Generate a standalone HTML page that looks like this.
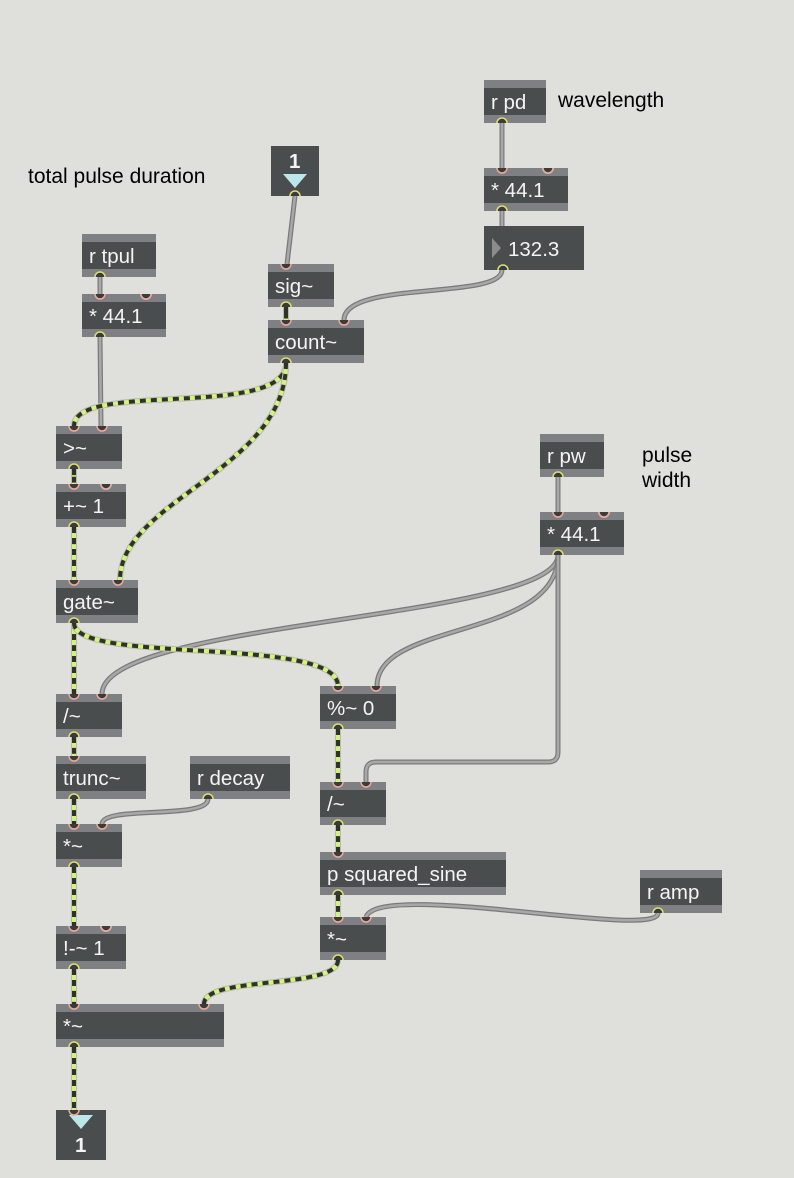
<!DOCTYPE html>
<html><head><meta charset="utf-8">
<style>
html,body{margin:0;padding:0;background:#dfe0db;}
svg{display:block}
.t{font-family:"Liberation Sans",sans-serif;font-size:20.5px;fill:#f4f4f4}
.c{font-family:"Liberation Sans",sans-serif;font-size:21px;fill:#000}
</style></head>
<body>
<svg id="s" width="794" height="1178" xmlns="http://www.w3.org/2000/svg">
<rect width="794" height="1178" fill="#dfe0db"/>
<text class="c" x="28" y="183">total pulse duration</text>
<text class="c" x="558" y="107">wavelength</text>
<text class="c" x="642" y="462">pulse</text>
<text class="c" x="642" y="487">width</text>
<g id="cords"></g>
<g id="boxes"></g>
</svg>
<script>
var NS="http://www.w3.org/2000/svg";
function el(p,tag,a,txt){var e=document.createElementNS(NS,tag);for(var k in a)e.setAttribute(k,a[k]);if(txt)e.textContent=txt;p.appendChild(e);return e;}
var B=document.getElementById('boxes'),C=document.getElementById('cords');
var bx={
 rpd:[484,80,62,'r pd',0,0],
 m1:[484,168,84,'* 44.1',2,1],
 sig:[268,264,66,'sig~',1,0],
 cnt:[268,320,96,'count~',2,0],
 rtp:[82,234,74,'r tpul',0,0],
 m2:[82,294,84,'* 44.1',2,1],
 gt:[56,426,66,'>~',2,0],
 pl:[56,484,70,'+~ 1',2,1],
 gate:[56,580,82,'gate~',2,0],
 rpw:[540,434,64,'r pw',0,0],
 m3:[540,512,84,'* 44.1',2,1],
 d1:[56,694,66,'/~',2,0],
 mod:[320,686,76,'%~ 0',2,0],
 tr:[56,756,90,'trunc~',1,0],
 rdc:[190,756,100,'r decay',0,0],
 t1:[56,824,66,'*~',2,0],
 d2:[320,782,66,'/~',2,0],
 ps:[320,852,186,'p squared_sine',1,0],
 ramp:[640,870,82,'r amp',0,0],
 t2:[320,917,66,'*~',2,0],
 nm:[56,926,70,'!-~ 1',2,1],
 t3:[56,1004,168,'*~',2,0]
};
function outP(n){var b=bx[n];return [b[0]+18,b[1]+43];}
function inP(n,i){var b=bx[n];return i?[b[0]+b[2]-20,b[1]]:[b[0]+18,b[1]];}
for(var k in bx){var b=bx[k],x=b[0],y=b[1],w=b[2];
 el(B,'rect',{x:x,y:y,width:w,height:43,fill:'#7e8083'});
 el(B,'rect',{x:x,y:y+8,width:w,height:27,fill:'#4a4d4d'});
 el(B,'text',{x:x+7,y:y+29,'class':'t'},b[3]);
 if(b[5])el(B,'path',{d:'M'+(x+w-26)+','+y+' a6,6 0 0 0 12,0z',fill:'#b8b9bb'});
 var ins=b[4]==2?[0,1]:(b[4]==1?[0]:[]);
 ins.forEach(function(i){var p=inP(k,i);el(B,'path',{d:'M'+(p[0]-5)+','+p[1]+' a5,5 0 0 0 10,0',fill:'#3a3c3c',stroke:'#f0a898','stroke-width':1.5});});
 var o=outP(k);el(B,'path',{d:'M'+(o[0]-5)+','+o[1]+' a5,5 0 0 1 10,0',fill:'#3a3c3c',stroke:'#e0e070','stroke-width':1.5});
}
el(B,'rect',{x:484,y:226,width:100,height:44,fill:'#4a4d4d'});
el(B,'path',{d:'M492,238 l9,10 l-9,10z',fill:'#8a8c8e'});
el(B,'text',{x:508,y:256,'class':'t'},'132.3');
el(B,'path',{d:'M498,270 a5,5 0 0 1 10,0',fill:'#3a3c3c',stroke:'#e0e070','stroke-width':1.5});
el(B,'rect',{x:271,y:146,width:48,height:50,fill:'#4a4d4d'});
el(B,'text',{x:289,y:168,'class':'t','font-size':'17','font-weight':'bold'},'1');
el(B,'path',{d:'M283,174 h24 l-12,14z',fill:'#bde6ea'});
el(B,'rect',{x:56,y:1110,width:50,height:50,fill:'#4a4d4d'});
el(B,'path',{d:'M69,1115 h24 l-12,14z',fill:'#bde6ea'});
el(B,'text',{x:75,y:1152,'class':'t','font-size':'17','font-weight':'bold'},'1');
el(B,'path',{d:'M290,196 a5,5 0 0 1 10,0',fill:'#3a3c3c',stroke:'#e0e070','stroke-width':1.5});
el(B,'path',{d:'M69,1110 a5,5 0 0 0 10,0',fill:'#3a3c3c',stroke:'#f0a898','stroke-width':1.5});

function cord(d,sig){
 if(sig){
  el(C,'path',{d:d,fill:'none',stroke:'#b8bcae','stroke-width':6});
  el(C,'path',{d:d,fill:'none',stroke:'#d4f280','stroke-width':4});
  el(C,'path',{d:d,fill:'none',stroke:'#2e3326','stroke-width':4,'stroke-dasharray':'6,5'});
 }else{
  el(C,'path',{d:d,fill:'none',stroke:'#7a7a7a','stroke-width':5});
  el(C,'path',{d:d,fill:'none',stroke:'#a8a8a8','stroke-width':2.5});
 }
}
function cv(a,b,sig){var dy=Math.max(20,Math.abs(b[1]-a[1])*0.5);
 cord('M'+a[0]+','+a[1]+' C'+a[0]+','+(a[1]+dy)+' '+b[0]+','+(b[1]-dy)+' '+b[0]+','+b[1],sig);}
function L(o,n,i,sig){cv(outP(o),inP(n,i),sig);}
cord('M295,196 L287,264',0);
L('rpd','m1',0,0);
cv(outP('m1'),[502,226],0);
cord('M502,270 C502,300 344,280 344,320',0);
L('sig','cnt',0,1);
L('rtp','m2',0,0);
cord('M100,337 L101,426',0);
cord('M286,363 C286,420 74,380 74,426',1);
cord('M286,363 C286,470 120,500 120,580',1);
L('gt','pl',0,1);
L('pl','gate',0,1);
L('rpw','m3',0,0);
cord('M558,555 C558,620 102,620 102,694',0);
cord('M558,555 C558,640 377,620 377,686',0);
cord('M558,555 L558,752 Q558,762 548,762 L376,762 Q366,762 366,772 L366,782',0);
L('gate','d1',0,1);
cord('M74,623 C74,665 338,635 338,686',1);
L('d1','tr',0,1);
L('tr','t1',0,1);
cord('M208,799 C208,820 102,805 102,824',0);
L('t1','nm',0,1);
L('nm','t3',0,1);
L('mod','d2',0,1);
L('d2','ps',0,1);
L('ps','t2',0,1);
cord('M658,913 C658,940 380,880 366,917',0);
cord('M338,960 C338,990 204,975 204,1004',1);
cord('M74,1047 L74,1110',1);
</script>
</body></html>
